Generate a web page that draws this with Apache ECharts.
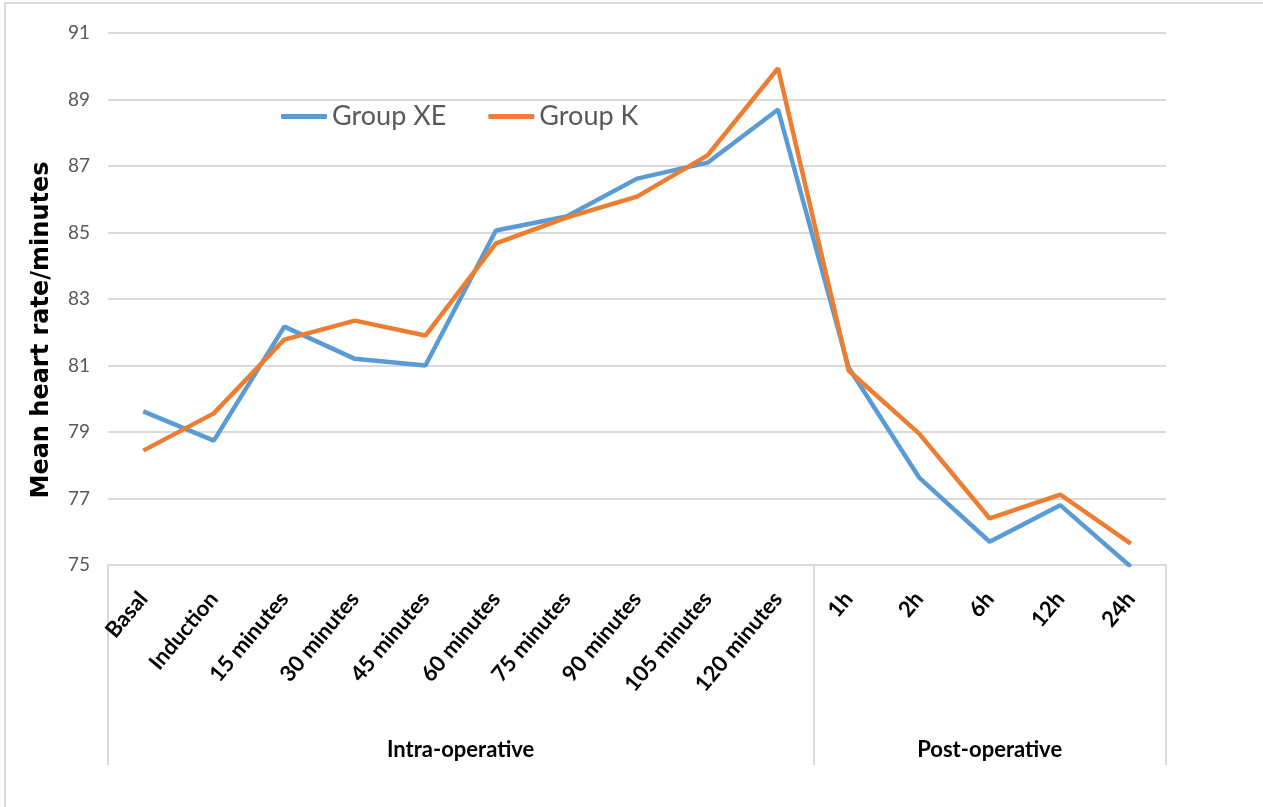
<!DOCTYPE html>
<html>
<head>
<meta charset="utf-8">
<title>Mean heart rate</title>
<script src="https://cdn.jsdelivr.net/npm/echarts@6/dist/echarts.min.js"></script>
<style>
  html, body { margin: 0; padding: 0; background: #ffffff; }
  #chart { width: 1263px; height: 807px; }
</style>
</head>
<body>
<div id="chart"></div>
<script>
// Time points (first-level axis labels)
const categories = ['Basal', 'Induction', '15 minutes', '30 minutes', '45 minutes', '60 minutes',
  '75 minutes', '90 minutes', '105 minutes', '120 minutes', '1h', '2h', '6h', '12h', '24h'];

// Period groups (second-level axis) and how many time points each covers
const groupNames = ['Intra-operative', 'Post-operative'];
const groupSizes = [10, 5];

// Mean heart rate (beats/minute)
const groupXE = [79.62, 78.74, 82.17, 81.2, 81.0, 85.06, 85.48, 86.62, 87.1, 88.7, 80.94, 77.63, 75.7, 76.8, 74.95];
const groupK  = [78.44, 79.56, 81.78, 82.35, 81.9, 84.67, 85.45, 86.08, 87.32, 89.94, 80.85, 78.95, 76.4, 77.12, 75.64];

// Y axis range
const yMin = 75, yMax = 91, yStep = 2;

// Group boundaries and centres on a 0..N scale matching the category bands
const bounds = [0];
groupSizes.forEach(s => bounds.push(bounds[bounds.length - 1] + s));
const centres = groupSizes.map((s, i) => bounds[i] + s / 2);

const gridColor = '#d9d9d9';
const chart = echarts.init(document.getElementById('chart'), null, { renderer: 'canvas' });

chart.setOption({
  backgroundColor: '#ffffff',
  animation: false,
  graphic: [{
    type: 'rect',
    shape: { x: 5, y: 3, width: 1400, height: 1000 },
    style: { fill: 'none', stroke: gridColor, lineWidth: 2 },
    silent: true
  }],
  grid: { left: 108, right: 97, top: 33, bottom: 242, containLabel: false },
  legend: {
    top: 98,
    left: 276,
    itemWidth: 46,
    itemHeight: 5,
    itemGap: 42,
    icon: 'roundRect',
    textStyle: { fontFamily: 'Lato', fontSize: 27, color: '#595959' },
    data: ['Group XE', 'Group K']
  },
  xAxis: [{
    type: 'category',
    data: categories,
    boundaryGap: true,
    axisLine: { lineStyle: { color: gridColor, width: 2 } },
    axisTick: { show: false },
    axisLabel: {
      interval: 0,
      rotate: 50,
      margin: 30,
      fontFamily: 'Lato',
      fontWeight: 'bold',
      fontSize: 22,
      color: '#000000'
    },
    splitLine: { show: false }
  }, {
    type: 'value',
    min: 0,
    max: bounds[bounds.length - 1],
    position: 'bottom',
    axisLine: { show: false },
    splitLine: { show: false },
    axisTick: {
      show: true,
      customValues: bounds,
      length: 200,
      lineStyle: { color: gridColor, width: 2 }
    },
    axisLabel: {
      customValues: centres,
      margin: 174,
      fontFamily: 'Lato',
      fontWeight: 'bold',
      fontSize: 22,
      color: '#000000',
      formatter: v => groupNames[centres.indexOf(v)] || ''
    }
  }],
  yAxis: {
    type: 'value',
    min: yMin,
    max: yMax,
    interval: yStep,
    name: 'Mean heart rate/minutes',
    nameLocation: 'middle',
    nameGap: 54,
    nameTextStyle: {
      fontFamily: 'DejaVu Sans',
      fontWeight: 'bold',
      fontSize: 24,
      color: '#000000',
      padding: [0, 62, 0, 0]
    },
    axisLine: { show: false },
    axisTick: { show: false },
    axisLabel: { margin: 18, fontFamily: 'Lato', fontSize: 19, color: '#595959' },
    splitLine: { lineStyle: { color: gridColor, width: 2 } }
  },
  series: [{
    name: 'Group XE',
    type: 'line',
    data: groupXE,
    xAxisIndex: 0,
    symbol: 'none',
    color: '#5b9bd5',
    lineStyle: { width: 4.5, color: '#5b9bd5' }
  }, {
    name: 'Group K',
    type: 'line',
    data: groupK,
    xAxisIndex: 0,
    symbol: 'none',
    color: '#ed7d31',
    lineStyle: { width: 4.5, color: '#ed7d31' }
  }]
});
</script>
</body>
</html>
